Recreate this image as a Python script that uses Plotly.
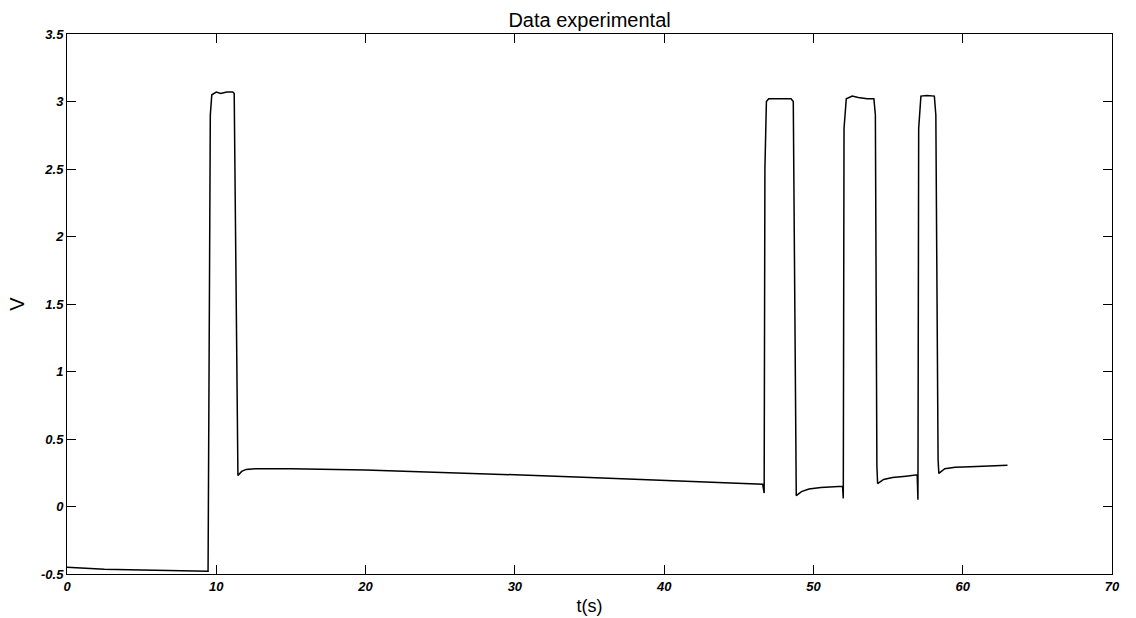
import plotly.graph_objects as go

t = [0, 1, 2.5, 5, 7.5, 9.3, 9.45, 9.6, 9.7, 10.0, 10.3, 10.7, 11.1, 11.2, 11.4, 11.45, 11.7, 12.0, 12.6,
     15, 20, 25, 30, 35, 40, 44, 46.6, 46.7, 46.75, 46.85, 47.0, 47.5, 48.0, 48.5, 48.65, 48.8, 48.85,
     49.2, 49.7, 50.5, 51.5, 51.95, 52.0, 52.05, 52.2, 52.6, 53.0, 53.6, 54.05, 54.15, 54.25, 54.3,
     54.7, 55.3, 56.2, 56.95, 57.0, 57.05, 57.2, 57.6, 58.1, 58.2, 58.35, 58.4, 58.8, 59.5, 60.5, 62, 63]
v = [-0.45, -0.455, -0.465, -0.47, -0.475, -0.48, -0.48, 2.9, 3.05, 3.07, 3.06, 3.07, 3.07, 3.06, 0.3, 0.23, 0.26, 0.275, 0.28,
     0.28, 0.27, 0.255, 0.235, 0.215, 0.195, 0.18, 0.165, 0.1, 2.5, 3.0, 3.02, 3.02, 3.02, 3.02, 3.0, 0.3, 0.08,
     0.11, 0.13, 0.14, 0.145, 0.15, 0.06, 2.8, 3.02, 3.04, 3.03, 3.02, 3.02, 2.9, 0.3, 0.17,
     0.2, 0.215, 0.225, 0.235, 0.05, 2.8, 3.04, 3.045, 3.04, 2.9, 0.35, 0.245, 0.28, 0.29, 0.295, 0.3, 0.305]

x_ticks = [0, 10, 20, 30, 40, 50, 60, 70]
y_ticks = [-0.5, 0, 0.5, 1, 1.5, 2, 2.5, 3, 3.5]

fig = go.Figure(go.Scatter(x=t, y=v, mode="lines", line=dict(color="black", width=1.5)))

tickfont = dict(family="Liberation Sans, Arial", size=13, color="black", style="italic", weight="bold")
axis_common = dict(showgrid=False, zeroline=False, showline=True, linecolor="black", linewidth=1,
                   mirror="ticks", ticks="inside", ticklen=9, tickcolor="black", tickwidth=1,
                   tickfont=tickfont, automargin=False)

fig.update_layout(
    width=1136, height=618,
    margin=dict(l=67, r=24, t=34, b=44),
    paper_bgcolor="white", plot_bgcolor="white",
    showlegend=False,
    title=dict(text="Data experimental", x=0.519, xanchor="center", y=0.968, yanchor="middle",
               font=dict(family="Liberation Sans, Arial", size=20, color="black")),
    xaxis=dict(range=[0, 70], tickvals=x_ticks, ticktext=[str(x) for x in x_ticks],
               title=dict(text="t(s)", font=dict(family="Liberation Sans, Arial", size=18, color="black"), standoff=6),
               **axis_common),
    yaxis=dict(range=[-0.5, 3.5], tickvals=y_ticks, ticktext=[("%g" % y) for y in y_ticks],
               title=dict(text="V", font=dict(family="Liberation Sans, Arial", size=20, color="black"), standoff=10),
               **axis_common),
)

fig.write_html("out.html")
